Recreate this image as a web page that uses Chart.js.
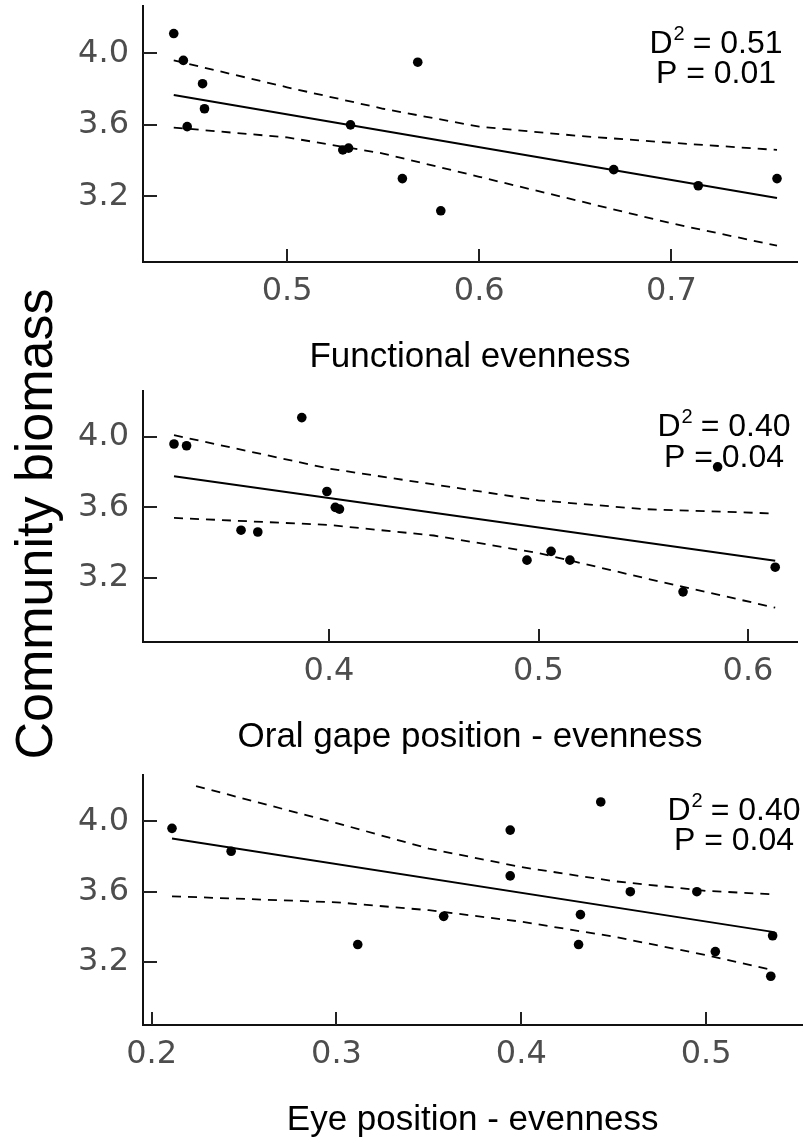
<!DOCTYPE html>
<html>
<head>
<meta charset="utf-8">
<script src="https://cdn.jsdelivr.net/npm/chart.js@4.4.1/dist/chart.umd.min.js"></script>
<style>
	body { margin: 0; background: #fff; width: 807px; height: 1143px; position: relative; overflow: hidden; }
	canvas { position: absolute; left: 0; }
	#ylab {
		position: absolute; left: 34px; top: 524px;
		transform: translate(-50%, -50%) rotate(-90deg);
		font: 52px 'Liberation Sans', Arial, sans-serif; line-height: 52px;
		white-space: nowrap; color: #000;
	}
</style>
</head>
<body>
<div id="ylab">Community biomass</div>
<canvas id="panel1" width="807" height="378" style="top:0px"></canvas>
<canvas id="panel2" width="807" height="373" style="top:385px"></canvas>
<canvas id="panel3" width="807" height="372" style="top:769px"></canvas>
<script>
// values
const biomassTicks = [3.2, 3.6, 4.0];

// Functional evenness
const funcX = [0.441, 0.446, 0.456, 0.457, 0.448, 0.533, 0.529, 0.532, 0.568, 0.560, 0.580, 0.670, 0.714, 0.755];
const funcY = [4.11, 3.96, 3.83, 3.69, 3.59, 3.60, 3.46, 3.47, 3.95, 3.30, 3.12, 3.35, 3.26, 3.30];
const funcFitX = [0.441, 0.755];
const funcFitY = [3.767, 3.191];
const funcBandX = [0.441, 0.5, 0.55, 0.6, 0.65, 0.7, 0.755];
const funcUpper = [3.96, 3.81, 3.69, 3.59, 3.54, 3.50, 3.46];
const funcLower = [3.585, 3.53, 3.44, 3.31, 3.18, 3.05, 2.925];
const funcTicks = [0.5, 0.6, 0.7];

// Oral gape position - evenness
const gapeX = [0.326, 0.332, 0.387, 0.399, 0.403, 0.405, 0.358, 0.366, 0.4945, 0.506, 0.515, 0.569, 0.5855, 0.613];
const gapeY = [3.96, 3.95, 4.11, 3.69, 3.60, 3.59, 3.47, 3.46, 3.30, 3.35, 3.30, 3.12, 3.83, 3.26];
const gapeFitX = [0.326, 0.613];
const gapeFitY = [3.777, 3.296];
const gapeBandX = [0.326, 0.4, 0.45, 0.5, 0.55, 0.613];
const gapeUpper = [4.01, 3.82, 3.73, 3.64, 3.59, 3.565];
const gapeLower = [3.54, 3.50, 3.44, 3.34, 3.20, 3.03];
const gapeTicks = [0.4, 0.5, 0.6];

// Eye position - evenness
const eyeX = [0.211, 0.243, 0.3115, 0.358, 0.394, 0.394, 0.443, 0.432, 0.431, 0.459, 0.495, 0.505, 0.536, 0.535];
const eyeY = [3.96, 3.83, 3.30, 3.46, 3.95, 3.69, 4.11, 3.47, 3.30, 3.60, 3.60, 3.26, 3.35, 3.12];
const eyeFitX = [0.211, 0.536];
const eyeFitY = [3.902, 3.372];
const eyeUpperX = [0.224, 0.3, 0.35, 0.4, 0.45, 0.5, 0.536];
const eyeUpper = [4.20, 3.99, 3.845, 3.74, 3.66, 3.605, 3.585];
const eyeLowerX = [0.211, 0.3, 0.35, 0.4, 0.45, 0.5, 0.536];
const eyeLower = [3.574, 3.54, 3.495, 3.43, 3.345, 3.24, 3.155];
const eyeTicks = [0.2, 0.3, 0.4, 0.5];

const d2Values = [0.51, 0.40, 0.40];
const pValues = [0.01, 0.04, 0.04];

const FONT = "'Liberation Sans', Arial, sans-serif";
const TICK_FONT = "'DejaVu Sans', Arial, sans-serif";

function pts(xs, ys) {
	return xs.map((x, i) => ({ x: x, y: ys[i] }));
}

// ticks point into the plot, like the original
const inwardTicks = {
	id: 'inwardTicks',
	afterDraw(chart) {
		const ctx = chart.ctx;
		const area = chart.chartArea;
		ctx.save();
		ctx.strokeStyle = '#222';
		ctx.lineWidth = 2;
		chart.scales.x.ticks.forEach((t) => {
			const px = Math.round(chart.scales.x.getPixelForValue(t.value));
			ctx.beginPath();
			ctx.moveTo(px, area.bottom);
			ctx.lineTo(px, area.bottom - 13);
			ctx.stroke();
		});
		chart.scales.y.ticks.forEach((t) => {
			const py = Math.round(chart.scales.y.getPixelForValue(t.value));
			ctx.beginPath();
			ctx.moveTo(area.left, py);
			ctx.lineTo(area.left + 14, py);
			ctx.stroke();
		});
		ctx.restore();
	},
};

// D^2 / P text in the top right corner
const statText = {
	id: 'statText',
	afterDraw(chart, args, opts) {
		const ctx = chart.ctx;
		ctx.save();
		ctx.fillStyle = '#000';
		ctx.textBaseline = 'alphabetic';
		ctx.font = '32px ' + FONT;
		const tail = ' = ' + opts.d2.toFixed(2);
		const wD = ctx.measureText('D').width;
		const wT = ctx.measureText(tail).width;
		ctx.font = '20px ' + FONT;
		const wS = ctx.measureText('2').width;
		let x = opts.cx - (wD + wS + wT) / 2;
		ctx.font = '32px ' + FONT;
		ctx.fillText('D', x, opts.y1);
		ctx.font = '20px ' + FONT;
		ctx.fillText('2', x + wD + 1, opts.y1 - 13);
		ctx.font = '32px ' + FONT;
		ctx.fillText(tail, x + wD + wS, opts.y1);
		ctx.textAlign = 'center';
		ctx.fillText('P = ' + opts.p.toFixed(2), opts.cx, opts.y2);
		ctx.restore();
	},
};

function makePanel(id, p) {
	const canvas = document.getElementById(id);
	const H = canvas.height;
	return new Chart(canvas, {
		type: 'scatter',
		data: {
			datasets: [
				{ data: pts(p.x, p.y), pointRadius: 4.8, pointBackgroundColor: '#000', pointBorderWidth: 0, showLine: false },
				{ data: pts(p.fitX, p.fitY), showLine: true, borderColor: '#000', borderWidth: 2, pointRadius: 0 },
				{ data: pts(p.upX, p.up), showLine: true, borderColor: '#000', borderWidth: 1.8, borderDash: [9, 7], pointRadius: 0 },
				{ data: pts(p.lowX, p.low), showLine: true, borderColor: '#000', borderWidth: 1.8, borderDash: [9, 7], pointRadius: 0 },
			],
		},
		options: {
			responsive: false,
			animation: false,
			devicePixelRatio: 1,
			layout: { padding: { top: 6, left: 0, bottom: 0, right: 807 - p.right } },
			plugins: {
				legend: { display: false },
				tooltip: { enabled: false },
				statText: { d2: p.d2, p: p.pv, cx: p.cx, y1: p.y1, y2: p.y2 },
			},
			scales: {
				x: {
					type: 'linear',
					min: p.xMin,
					max: p.xMax,
					afterBuildTicks: (s) => { s.ticks = p.ticks.map((v) => ({ value: v })); },
					afterFit: (s) => { s.height = H - 6 - p.plotH; s.paddingLeft = 0; s.paddingRight = 0; },
					grid: { display: true, drawOnChartArea: false, drawTicks: false },
					border: { display: true, color: '#111', width: 2 },
					ticks: {
						padding: 10,
						color: '#4d4d4d',
						font: { family: TICK_FONT, size: 32 },
						maxRotation: 0,
						autoSkip: false,
						callback: (v) => v.toFixed(1),
					},
					title: { display: true, text: p.title, color: '#000', font: { family: FONT, size: 35 }, padding: 0 },
				},
				y: {
					type: 'linear',
					min: p.yMin,
					max: p.yMax,
					afterBuildTicks: (s) => { s.ticks = biomassTicks.map((v) => ({ value: v })); },
					afterFit: (s) => { s.width = 143; s.paddingTop = 0; s.paddingBottom = 0; },
					grid: { display: true, drawOnChartArea: false, drawTicks: false },
					border: { display: true, color: '#111', width: 2 },
					ticks: {
						padding: 14,
						color: '#4d4d4d',
						font: { family: TICK_FONT, size: 32 },
						callback: (v) => v.toFixed(1),
					},
				},
			},
		},
		plugins: [inwardTicks, statText],
	});
}

makePanel('panel1', {
	x: funcX, y: funcY, fitX: funcFitX, fitY: funcFitY,
	upX: funcBandX, up: funcUpper, lowX: funcBandX, low: funcLower,
	ticks: funcTicks, xMin: 0.425, xMax: 0.7654, yMin: 2.834, yMax: 4.264,
	right: 797, plotH: 256, title: 'Functional evenness',
	d2: d2Values[0], pv: pValues[0], cx: 716, y1: 53, y2: 83,
});

makePanel('panel2', {
	x: gapeX, y: gapeY, fitX: gapeFitX, fitY: gapeFitY,
	upX: gapeBandX, up: gapeUpper, lowX: gapeBandX, low: gapeLower,
	ticks: gapeTicks, xMin: 0.3112, xMax: 0.6234, yMin: 2.835, yMax: 4.261,
	right: 797, plotH: 251, title: 'Oral gape position - evenness',
	d2: d2Values[1], pv: pValues[1], cx: 724, y1: 51, y2: 82,
});

makePanel('panel3', {
	x: eyeX, y: eyeY, fitX: eyeFitX, fitY: eyeFitY,
	upX: eyeUpperX, up: eyeUpper, lowX: eyeLowerX, low: eyeLower,
	ticks: eyeTicks, xMin: 0.1953, xMax: 0.552, yMin: 2.843, yMax: 4.263,
	right: 804, plotH: 250, title: 'Eye position - evenness',
	d2: d2Values[2], pv: pValues[2], cx: 734, y1: 51, y2: 81,
});
</script>
</body>
</html>
